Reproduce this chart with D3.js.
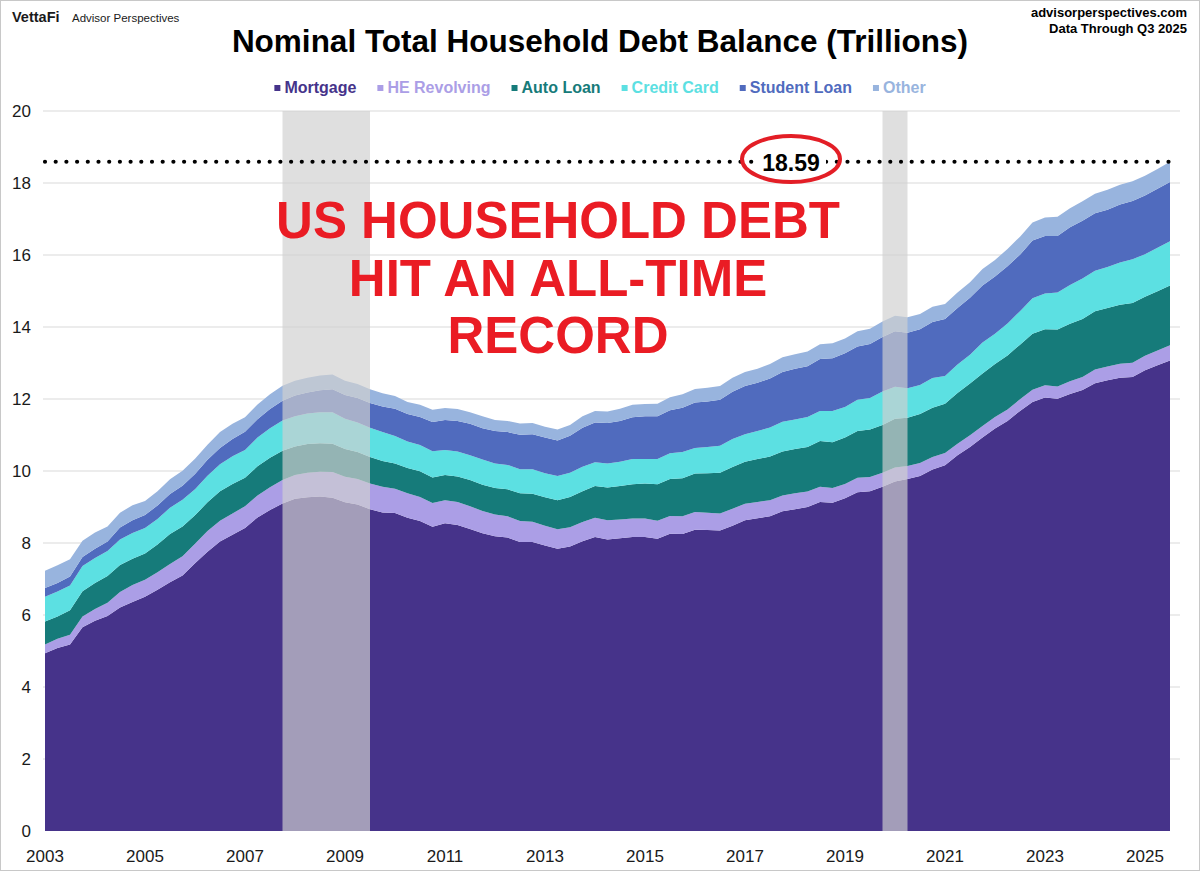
<!DOCTYPE html>
<html>
<head>
<meta charset="utf-8">
<script src="https://cdn.jsdelivr.net/npm/d3@7"></script>
<style>
  body { margin: 0; background: #fff; }
  svg { display: block; font-family: "Liberation Sans", Arial, sans-serif; }
</style>
</head>
<body>
<script>
// quarterly balances, trillions, 2003 Q1 .. 2025 Q3
const startYear = 2003;
const mortgage = [4.94,5.08,5.18,5.66, 5.84,5.97,6.21,6.36, 6.51,6.70,6.91,7.10, 7.44,7.76,8.04,8.23,
  8.42,8.71,8.92,9.10, 9.23,9.27,9.29,9.26, 9.13,9.07,8.94,8.85, 8.83,8.70,8.61,8.45,
  8.55,8.50,8.39,8.27, 8.19,8.15,8.03,8.03, 7.93,7.84,7.90,8.05, 8.17,8.10,8.13,8.17,
  8.17,8.12,8.26,8.25, 8.37,8.36,8.35,8.48, 8.63,8.69,8.74,8.88, 8.94,9.00,9.14,9.12,
  9.24,9.41,9.44,9.56, 9.71,9.78,9.86,10.04, 10.16,10.44,10.67,10.93, 11.18,11.39,11.67,11.92,
  12.04,12.01,12.14,12.25, 12.44,12.52,12.59,12.61, 12.80,12.94,13.07];
const heRevolving = [0.24,0.26,0.27,0.30, 0.33,0.37,0.43,0.47, 0.47,0.49,0.51,0.53, 0.54,0.57,0.58,0.59,
  0.60,0.61,0.63,0.65, 0.66,0.68,0.69,0.71, 0.71,0.71,0.71,0.71, 0.68,0.68,0.67,0.66,
  0.64,0.64,0.63,0.62, 0.60,0.59,0.58,0.56, 0.55,0.54,0.54,0.53, 0.53,0.53,0.52,0.51,
  0.51,0.50,0.49,0.49, 0.49,0.48,0.47,0.47, 0.46,0.45,0.45,0.44, 0.44,0.43,0.42,0.41,
  0.40,0.40,0.39,0.39, 0.39,0.36,0.36,0.35, 0.34,0.32,0.32,0.32, 0.32,0.32,0.32,0.34,
  0.34,0.34,0.35,0.36, 0.38,0.38,0.39,0.40, 0.40,0.41,0.42];
const autoLoan = [0.64,0.62,0.68,0.70, 0.72,0.74,0.75,0.73, 0.73,0.77,0.83,0.83, 0.79,0.80,0.82,0.82,
  0.79,0.81,0.82,0.81, 0.79,0.80,0.79,0.79, 0.77,0.75,0.74,0.72, 0.70,0.70,0.71,0.71,
  0.70,0.71,0.73,0.73, 0.74,0.75,0.77,0.78, 0.79,0.81,0.84,0.86, 0.88,0.91,0.93,0.95,
  0.97,1.01,1.03,1.06, 1.07,1.10,1.13,1.16, 1.17,1.19,1.21,1.22, 1.23,1.24,1.27,1.27,
  1.29,1.30,1.32,1.33, 1.35,1.34,1.36,1.37, 1.37,1.41,1.44,1.46, 1.47,1.50,1.52,1.55,
  1.56,1.58,1.60,1.61, 1.62,1.63,1.64,1.66, 1.64,1.64,1.66];
const creditCard = [0.69,0.69,0.69,0.70, 0.69,0.70,0.71,0.72, 0.71,0.71,0.73,0.74, 0.72,0.74,0.75,0.77,
  0.77,0.80,0.82,0.84, 0.84,0.85,0.86,0.87, 0.84,0.82,0.81,0.80, 0.76,0.74,0.73,0.73,
  0.69,0.69,0.69,0.70, 0.68,0.68,0.67,0.68, 0.67,0.67,0.67,0.68, 0.66,0.67,0.68,0.70,
  0.68,0.70,0.71,0.73, 0.71,0.73,0.75,0.78, 0.76,0.78,0.81,0.83, 0.82,0.83,0.84,0.87,
  0.85,0.87,0.88,0.93, 0.89,0.82,0.81,0.82, 0.77,0.79,0.80,0.86, 0.84,0.89,0.93,0.99,
  0.99,1.03,1.08,1.13, 1.12,1.14,1.17,1.21, 1.18,1.21,1.23];
const studentLoan = [0.24,0.24,0.25,0.25, 0.26,0.26,0.33,0.35, 0.36,0.37,0.38,0.39, 0.43,0.44,0.45,0.48,
  0.51,0.51,0.53,0.55, 0.58,0.58,0.61,0.64, 0.66,0.68,0.69,0.71, 0.76,0.76,0.78,0.81,
  0.84,0.85,0.87,0.87, 0.90,0.91,0.96,0.97, 0.99,0.99,1.03,1.08, 1.11,1.12,1.13,1.16,
  1.19,1.19,1.20,1.23, 1.26,1.26,1.28,1.31, 1.34,1.34,1.36,1.38, 1.41,1.41,1.44,1.46,
  1.49,1.48,1.50,1.51, 1.54,1.54,1.55,1.56, 1.58,1.57,1.58,1.58, 1.59,1.59,1.57,1.60,
  1.60,1.57,1.60,1.60, 1.60,1.59,1.61,1.62, 1.63,1.64,1.65];
const other = [0.48,0.49,0.48,0.45, 0.45,0.42,0.41,0.42, 0.39,0.40,0.41,0.42, 0.42,0.42,0.44,0.42,
  0.40,0.41,0.41,0.42, 0.41,0.41,0.41,0.41, 0.40,0.39,0.38,0.37, 0.35,0.34,0.34,0.34,
  0.33,0.33,0.32,0.33, 0.31,0.31,0.31,0.31, 0.30,0.30,0.30,0.32, 0.32,0.32,0.34,0.35,
  0.34,0.35,0.36,0.37, 0.38,0.38,0.38,0.39, 0.39,0.39,0.40,0.41, 0.40,0.41,0.41,0.42,
  0.41,0.42,0.42,0.43, 0.43,0.43,0.42,0.42, 0.42,0.43,0.43,0.46, 0.46,0.48,0.50,0.50,
  0.51,0.53,0.53,0.54, 0.54,0.55,0.55,0.55, 0.55,0.55,0.56];

const seriesNames = ['Mortgage', 'HE Revolving', 'Auto Loan', 'Credit Card', 'Student Loan', 'Other'];
const seriesColors = ['#46338a', '#ab9ee6', '#167b7a', '#5ce0e2', '#506bbe', '#98b4de'];
const xTicks = [2003, 2005, 2007, 2009, 2011, 2013, 2015, 2017, 2019, 2021, 2023, 2025];
const yTicks = [0, 2, 4, 6, 8, 10, 12, 14, 16, 18, 20];
const recessions = [[2007.75, 2009.5], [2019.75, 2020.25]];
const latestTotal = 18.59;

let width = 1200;
let height = 871;

const svg = d3.select('body')
    .append('svg')
    .attr('width', width)
    .attr('height', height);

// frame
svg.append('rect')
    .attr('x', 0.5).attr('y', 0.5)
    .attr('width', width - 1).attr('height', height - 1)
    .attr('fill', '#fff')
    .attr('stroke', '#c8c8c8');

let x = d3.scaleLinear().domain([2003, 2025.5]).range([45, 1170]);
let y = d3.scaleLinear().domain([0, 20]).range([831, 111]);

let table = mortgage.map((m, i) => ({
    t: startYear + i / 4,
    'Mortgage': m,
    'HE Revolving': heRevolving[i],
    'Auto Loan': autoLoan[i],
    'Credit Card': creditCard[i],
    'Student Loan': studentLoan[i],
    'Other': other[i]
}));

// gridlines
svg.append('g')
    .selectAll('line')
    .data(yTicks.filter(d => d > 0))
    .enter()
    .append('line')
    .attr('x1', 43).attr('x2', 1180)
    .attr('y1', d => y(d)).attr('y2', d => y(d))
    .attr('stroke', '#d9d9d9')
    .attr('stroke-width', 1);

// stacked areas
let stack = d3.stack().keys(seriesNames);
let area = d3.area()
    .x(d => x(d.data.t))
    .y0(d => y(d[0]))
    .y1(d => y(d[1]));

svg.append('g')
    .selectAll('path')
    .data(stack(table))
    .enter()
    .append('path')
    .attr('d', area)
    .attr('fill', (d, i) => seriesColors[i]);

// recession bands
svg.append('g')
    .selectAll('rect')
    .data(recessions)
    .enter()
    .append('rect')
    .attr('x', d => x(d[0]))
    .attr('width', d => x(d[1]) - x(d[0]))
    .attr('y', y(20))
    .attr('height', y(0) - y(20))
    .attr('fill', '#d0d0d0')
    .attr('opacity', 0.68);

// axes labels
svg.append('g')
    .selectAll('text')
    .data(yTicks)
    .enter()
    .append('text')
    .attr('x', 31)
    .attr('y', d => y(d) + 6)
    .attr('text-anchor', 'end')
    .attr('font-size', 17)
    .attr('fill', '#1a1a1a')
    .text(d => d);

svg.append('g')
    .selectAll('text')
    .data(xTicks)
    .enter()
    .append('text')
    .attr('x', d => x(d))
    .attr('y', 862)
    .attr('text-anchor', 'middle')
    .attr('font-size', 17)
    .attr('fill', '#1a1a1a')
    .text(d => d);

// record line
svg.append('line')
    .attr('x1', x(2003)).attr('x2', x(2025.5))
    .attr('y1', y(latestTotal)).attr('y2', y(latestTotal))
    .attr('stroke', '#000')
    .attr('stroke-width', 4.2)
    .attr('stroke-linecap', 'round')
    .attr('stroke-dasharray', '0,10.7');

// label sits on a white patch that hides the dots under it
svg.append('rect')
    .attr('x', 756).attr('y', y(latestTotal) - 6)
    .attr('width', 70).attr('height', 12)
    .attr('fill', '#fff');

svg.append('text')
    .attr('x', 791)
    .attr('y', y(latestTotal) + 9)
    .attr('text-anchor', 'middle')
    .attr('font-size', 23)
    .attr('font-weight', 'bold')
    .attr('fill', '#000')
    .text(latestTotal.toFixed(2));

svg.append('ellipse')
    .attr('cx', 791).attr('cy', 159)
    .attr('rx', 49).attr('ry', 23)
    .attr('fill', 'none')
    .attr('stroke', '#e31e26')
    .attr('stroke-width', 4);

// big headline
let headline = ['US HOUSEHOLD DEBT', 'HIT AN ALL-TIME', 'RECORD'];
svg.append('g')
    .selectAll('text')
    .data(headline)
    .enter()
    .append('text')
    .attr('x', 558)
    .attr('y', (d, i) => 238 + i * 57.5)
    .attr('text-anchor', 'middle')
    .attr('font-size', 51)
    .attr('font-weight', 'bold')
    .attr('fill', '#ea1c24')
    .text(d => d);

// title
svg.append('text')
    .attr('x', 600).attr('y', 52)
    .attr('text-anchor', 'middle')
    .attr('font-size', 31.5)
    .attr('font-weight', 'bold')
    .attr('fill', '#000')
    .text('Nominal Total Household Debt Balance (Trillions)');

// branding
svg.append('text')
    .attr('x', 12).attr('y', 22)
    .attr('font-size', 14.5).attr('font-weight', 'bold').attr('fill', '#1a1a1a')
    .text('VettaFi');
svg.append('text')
    .attr('x', 72).attr('y', 22)
    .attr('font-size', 11.5).attr('fill', '#1a1a1a')
    .text('Advisor Perspectives');
svg.append('text')
    .attr('x', 1187).attr('y', 17)
    .attr('text-anchor', 'end')
    .attr('font-size', 13).attr('font-weight', 'bold').attr('fill', '#000')
    .text('advisorperspectives.com');
svg.append('text')
    .attr('x', 1187).attr('y', 33)
    .attr('text-anchor', 'end')
    .attr('font-size', 13).attr('font-weight', 'bold').attr('fill', '#000')
    .text('Data Through Q3 2025');

// legend
let legend = svg.append('g');
let items = legend.selectAll('g')
    .data(seriesNames)
    .enter()
    .append('g');
items.append('rect')
    .attr('width', 6).attr('height', 6)
    .attr('y', 85)
    .attr('fill', (d, i) => seriesColors[i]);
items.append('text')
    .attr('x', 10).attr('y', 93)
    .attr('font-size', 16).attr('font-weight', 'bold')
    .attr('fill', (d, i) => seriesColors[i])
    .text(d => d);

let offset = 0;
let starts = [];
items.each(function () {
    let w = 10 + d3.select(this).select('text').node().getComputedTextLength();
    starts.push(offset);
    offset += w + 21;
});
let total = offset - 21;
items.attr('transform', (d, i) => 'translate(' + (600 - total / 2 + starts[i]) + ',0)');
</script>
</body>
</html>
